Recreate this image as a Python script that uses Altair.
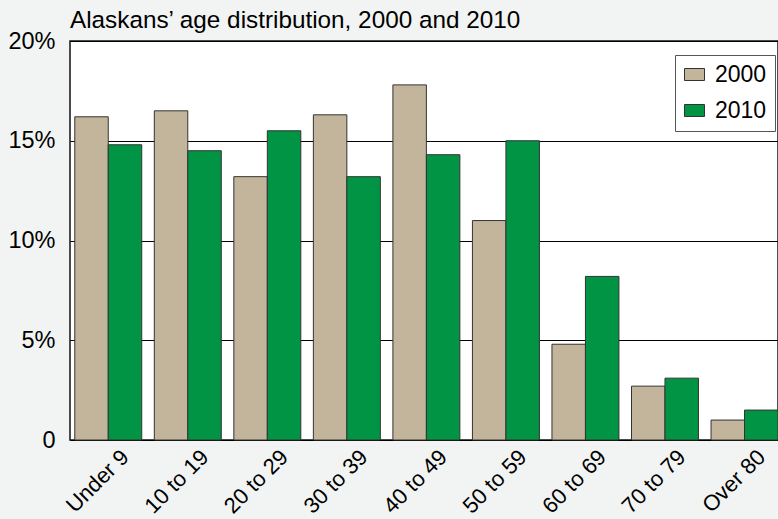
import altair as alt
import pandas as pd

ages = ["Under 9", "10 to 19", "20 to 29", "30 to 39", "40 to 49",
        "50 to 59", "60 to 69", "70 to 79", "Over 80"]
pct_2000 = [16.2, 16.5, 13.2, 16.3, 17.8, 11.0, 4.8, 2.7, 1.0]
pct_2010 = [14.8, 14.5, 15.5, 13.2, 14.3, 15.0, 8.2, 3.1, 1.5]
years = ["2000", "2010"]
colors = ["#c3b59b", "#009444"]

rows = []
for a, v0, v1 in zip(ages, pct_2000, pct_2010):
    rows.append({"age": a, "year": "2000", "share": v0 / 100})
    rows.append({"age": a, "year": "2010", "share": v1 / 100})
df = pd.DataFrame(rows)

FONT = "Liberation Sans"

chart = alt.Chart(df).mark_bar(stroke="#333333", strokeWidth=1).encode(
    x=alt.X("age:N", sort=ages, title=None,
            scale=alt.Scale(paddingInner=0.158, paddingOuter=0.03, align=1),
            axis=alt.Axis(labelAngle=-45, labelFontSize=22, labelFont=FONT,
                          labelColor="black", ticks=False, domain=False,
                          labelPadding=6, labelOffset=10)),
    xOffset=alt.XOffset("year:N", sort=years, scale=alt.Scale(paddingInner=0, paddingOuter=0)),
    y=alt.Y("share:Q", title=None,
            scale=alt.Scale(domain=[0, 0.2], nice=False),
            axis=alt.Axis(values=[0, 0.05, 0.1, 0.15, 0.2],
                          labelExpr="datum.value == 0 ? '0' : format(datum.value, '.0%')",
                          labelFontSize=23.5, labelFont=FONT, labelColor="black",
                          ticks=False, domain=False, labelPadding=15,
                          grid=True, gridColor="black", gridWidth=1, gridOpacity=1)),
    fill=alt.Fill("year:N", sort=years, title=None,
                  scale=alt.Scale(domain=years, range=colors),
                  legend=alt.Legend(orient="none", legendX=605, legendY=14,
                                    fillColor="white", strokeColor="#555555",
                                    padding=8, labelFontSize=23, labelFont=FONT,
                                    labelColor="black", labelOffset=9,
                                    symbolType="M-1,-0.6L1,-0.6L1,0.6L-1,0.6Z",
                                    symbolSize=400, symbolStrokeColor="#333333",
                                    symbolStrokeWidth=1, symbolOpacity=1,
                                    rowPadding=12)),
).properties(
    width=708, height=399,
    title=alt.Title("Alaskans’ age distribution, 2000 and 2010", anchor="start",
                    frame="group", font=FONT, fontSize=24.3, fontWeight="normal",
                    color="black", offset=8, dy=12),
    autosize=alt.AutoSizeParams(type="none"),
    padding={"left": 70, "top": 41, "right": 0, "bottom": 79},
    background="#f2f4f3",
).configure_view(
    stroke="#111111", strokeWidth=1.5, fill="white"
)

chart.save("out.html", embed_options={"renderer": "svg", "actions": False})
